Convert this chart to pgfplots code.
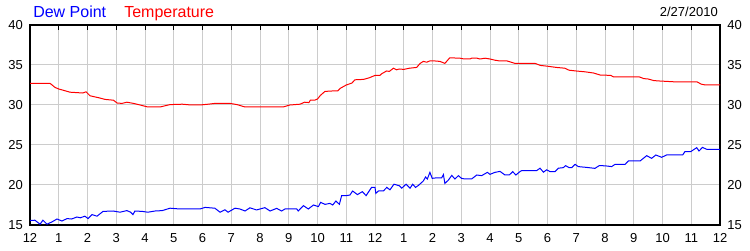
\documentclass[border=0pt]{standalone}
\usepackage{pgfplots}
\pgfplotsset{compat=1.18}
\usepackage{fontspec}
\setmainfont{Liberation Sans}
\definecolor{gridc}{RGB}{204,204,204}
\begin{document}
\begin{tikzpicture}
\useasboundingbox (-22.5pt,-18.75pt) rectangle (540pt,168.75pt);
\pgfplotsset{
  base/.style={
    scale only axis, width=517.5pt, height=150pt,
    at={(0pt,0pt)}, anchor=south west,
    xmin=0, xmax=24, ymin=15, ymax=40,
    ytick={15,20,...,40},
    /pgf/number format/assume math mode=true,
    tick label style={font=\fontsize{9.75}{11}\selectfont, inner sep=0pt},
  }
}
\begin{axis}[base,
    xtick={0,...,24},
    xticklabels={12,1,2,3,4,5,6,7,8,9,10,11,12,1,2,3,4,5,6,7,8,9,10,11,12},
    xtick pos=right, xticklabel pos=left,
    tick align=inside,
    major tick length=3.75pt,
    x tick style={black, line width=0.75pt},
    ytick style={draw=none},
    xticklabel style={anchor=north, yshift=-6pt},
    yticklabel style={anchor=east, xshift=-5.25pt},
    grid=major,
    major grid style={color=gridc, line width=0.75pt},
    axis line style={black, line width=1pt},
    axis on top=false,
  ]
\addplot[red, line width=0.75pt] coordinates {
(0,32.7)(0.7,32.7)(0.87,32.2)(1.0,32.0)(1.2,31.8)(1.39,31.6)(1.84,31.5)(1.95,31.65)(2.09,31.15)(2.4,30.9)(2.61,30.7)(2.9,30.6)(3.03,30.25)(3.2,30.2)(3.37,30.35)(3.6,30.2)(3.83,30.0)(4.1,29.75)(4.52,29.75)(4.87,30.05)(5.3,30.1)(5.6,30.0)(5.91,30.0)(6.2,30.1)(6.43,30.2)(6.96,30.2)(7.2,30.05)(7.48,29.75)(8.8,29.75)(9.04,30.0)(9.39,30.1)(9.55,30.35)(9.7,30.3)(9.75,30.6)(9.9,30.6)(10.0,30.75)(10.1,31.2)(10.26,31.7)(10.5,31.75)(10.7,31.75)(10.8,32.1)(11.0,32.5)(11.2,32.75)(11.3,33.15)(11.6,33.2)(11.8,33.4)(12.0,33.7)(12.17,33.7)(12.23,33.9)(12.4,34.25)(12.5,34.2)(12.64,34.6)(12.75,34.4)(12.84,34.5)(13.0,34.45)(13.2,34.6)(13.45,34.7)(13.57,35.2)(13.68,35.45)(13.8,35.35)(13.9,35.5)(14.1,35.5)(14.26,35.45)(14.43,35.2)(14.6,35.9)(14.96,35.85)(15.1,35.75)(15.3,35.75)(15.36,35.85)(15.55,35.85)(15.65,35.75)(15.83,35.85)(16.0,35.75)(16.17,35.6)(16.35,35.5)(16.6,35.5)(16.87,35.2)(17.57,35.2)(17.75,34.95)(18.0,34.85)(18.3,34.7)(18.6,34.6)(18.75,34.35)(19.0,34.25)(19.3,34.15)(19.6,34.0)(19.83,33.75)(20.2,33.7)(20.3,33.5)(21.2,33.5)(21.35,33.3)(21.5,33.25)(21.7,33.05)(21.9,33.0)(22.4,32.9)(23.2,32.9)(23.35,32.6)(23.5,32.5)(24,32.5)
};
\addplot[blue, line width=0.75pt] coordinates {
(0,15.55)(0.17,15.6)(0.35,15.1)(0.45,15.6)(0.59,15.1)(0.77,15.4)(0.94,15.75)(1.11,15.5)(1.29,15.8)(1.45,15.75)(1.63,16.0)(1.75,15.9)(1.91,16.1)(2.02,15.8)(2.16,16.3)(2.33,16.1)(2.54,16.7)(2.89,16.75)(3.13,16.6)(3.37,16.8)(3.5,16.6)(3.58,16.3)(3.65,16.75)(3.9,16.7)(4.1,16.6)(4.35,16.75)(4.6,16.8)(4.87,17.1)(5.22,17.0)(5.91,17.0)(6.09,17.2)(6.43,17.1)(6.61,16.6)(6.78,16.9)(6.89,16.6)(7.13,17.1)(7.3,17.0)(7.48,16.75)(7.65,17.15)(7.88,16.88)(8.17,17.17)(8.35,16.75)(8.58,17.08)(8.75,16.75)(8.87,17.0)(9.28,17.0)(9.33,16.75)(9.51,17.42)(9.68,17.0)(9.86,17.5)(10.03,17.3)(10.11,17.83)(10.26,17.58)(10.43,17.7)(10.53,17.5)(10.64,18.0)(10.76,17.58)(10.84,18.67)(11.01,18.67)(11.13,18.75)(11.22,19.25)(11.39,18.8)(11.56,19.17)(11.69,18.67)(11.88,19.7)(12.0,19.7)(12.03,18.96)(12.12,19.25)(12.29,19.25)(12.41,19.7)(12.52,19.4)(12.66,20.1)(12.85,19.9)(12.93,19.6)(13.08,20.1)(13.22,19.6)(13.31,20.1)(13.41,19.7)(13.51,19.95)(13.68,20.5)(13.76,21.0)(13.82,20.75)(13.91,21.58)(13.99,20.83)(14.15,20.9)(14.32,20.9)(14.38,21.3)(14.43,20.2)(14.55,20.6)(14.67,21.2)(14.78,20.75)(14.9,21.17)(15.01,20.83)(15.13,20.75)(15.36,20.75)(15.54,21.25)(15.71,21.17)(15.91,21.58)(16.0,21.33)(16.17,21.58)(16.35,21.7)(16.52,21.25)(16.67,21.25)(16.79,21.67)(16.9,21.25)(17.04,21.67)(17.1,21.79)(17.62,21.79)(17.74,22.1)(17.86,21.6)(17.97,21.9)(18.09,21.67)(18.26,21.67)(18.38,22.1)(18.55,22.17)(18.63,22.42)(18.75,22.17)(18.84,22.17)(18.96,22.58)(19.07,22.3)(19.36,22.2)(19.65,22.08)(19.8,22.42)(20.0,22.4)(20.23,22.3)(20.35,22.58)(20.7,22.58)(20.81,23.0)(21.22,23.0)(21.45,23.67)(21.62,23.33)(21.77,23.75)(21.97,23.46)(22.14,23.75)(22.7,23.75)(22.78,24.17)(22.98,24.17)(23.07,24.38)(23.19,24.67)(23.27,24.25)(23.39,24.7)(23.54,24.46)(24,24.46)
};
\end{axis}
\begin{axis}[base,
    xtick=\empty,
    yticklabel pos=right,
    ytick style={draw=none},
    yticklabel style={anchor=west, xshift=5.25pt},
    axis line style={draw=none},
  ]
\addplot[draw=none] coordinates {(0,20)};
\end{axis}
\node[anchor=base west, inner sep=0pt, text=blue, font=\fontsize{12}{14}\selectfont] at (2.25pt,155.25pt) {Dew Point};
\node[anchor=base west, inner sep=0pt, text=red, font=\fontsize{12}{14}\selectfont] at (70.5pt,155.25pt) {Temperature};
\node[anchor=base east, inner sep=0pt, text=black, font=\fontsize{9.75}{11}\selectfont] at (516pt,156pt) {2/27/2010};
\end{tikzpicture}
\end{document}
